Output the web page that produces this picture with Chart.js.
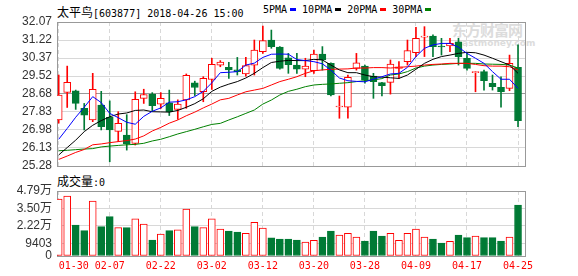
<!DOCTYPE html>
<html>
<head>
<meta charset="utf-8">
<script src="https://cdn.jsdelivr.net/npm/chart.js@4.4.1/dist/chart.umd.min.js"></script>
<style>
body { margin: 0; background: #fff; }
#wrap { position: relative; width: 578px; height: 276px; overflow: hidden; }
canvas { position: absolute; left: 0; }
#priceCanvas { top: 0; z-index: 2; }
#volCanvas { top: 166px; z-index: 2; }
.txt { position: absolute; white-space: pre; font: 10px "DejaVu Sans Mono", monospace; line-height: 14px; color: #000; }
.cjk { font: 12px "Noto Sans CJK SC", sans-serif; }
.key { display: inline-block; width: 6px; height: 3px; margin: 0 6px 1px 3px; vertical-align: middle; }
#mark { position: absolute; left: 452px; top: 21px; z-index: 1; color: #dcdcdc; }
#mark .cn { font: bold 15px "Noto Sans CJK SC", sans-serif; line-height: 17px; letter-spacing: -1px; }
#mark .en { font: bold 9px "DejaVu Sans", sans-serif; line-height: 10px; margin-left: 4px; }
</style>
</head>
<body>
<div id="wrap">
  <div class="txt" style="left:57px;top:3px"><span class="cjk">太平鸟</span>[603877] 2018-04-26 15:00</div>
  <div class="txt" style="left:263px;top:3px">5PMA<span class="key" style="background:#0000ff"></span>10PMA<span class="key" style="background:#000"></span>20PMA<span class="key" style="background:#ff0000"></span>30PMA<span class="key" style="background:#008000"></span></div>
  <div class="txt" style="left:57px;top:172px"><span class="cjk">成交量</span>:0</div>
  <div id="mark"><div class="cn">东方财富网</div><div class="en">eastmoney.com</div></div>
  <canvas id="priceCanvas" width="578" height="172"></canvas>
  <canvas id="volCanvas" width="578" height="110"></canvas>
</div>
<script>
// Trading days shown on the chart
const dates = ['01-30', '01-31', '02-01', '02-02', '02-05', '02-06', '02-07', '02-08', '02-09', '02-12',
    '02-13', '02-14', '02-22', '02-23', '02-26', '02-27', '02-28', '03-01', '03-02', '03-05',
    '03-06', '03-07', '03-08', '03-09', '03-12', '03-13', '03-14', '03-15', '03-16', '03-19',
    '03-20', '03-21', '03-22', '03-23', '03-26', '03-27', '03-28', '03-29', '03-30', '04-02',
    '04-03', '04-04', '04-09', '04-10', '04-11', '04-12', '04-13', '04-16', '04-17', '04-18',
    '04-19', '04-20', '04-23', '04-24', '04-25'];

// Daily prices
const openPrices = [27.45, 28.75, 28.82, 28.00, 27.45, 28.15, 27.58, 26.91, 26.74, 26.35,
    28.47, 28.67, 28.19, 28.26, 27.95, 28.39, 29.20, 28.78, 29.36, 30.03,
    29.93, 29.81, 29.62, 30.04, 30.67, 31.22, 30.89, 30.38, 30.04, 29.84,
    29.77, 30.56, 30.12, 28.06, 28.05, 29.88, 29.99, 29.52, 29.21, 29.22,
    29.88, 30.20, 30.62, 31.35, 31.41, 30.92, 30.94, 31.14, 30.36, 29.68,
    29.73, 29.18, 28.99, 28.94, 29.93];
const highPrices = [29.57, 29.99, 28.86, 28.23, 29.65, 28.80, 28.35, 27.84, 27.70, 28.78,
    28.90, 28.74, 28.74, 28.86, 28.40, 29.62, 29.28, 29.49, 30.36, 30.25,
    30.17, 30.40, 30.40, 31.22, 31.88, 31.69, 30.91, 30.59, 30.59, 30.36,
    30.75, 30.91, 30.15, 28.58, 29.57, 30.59, 30.04, 29.65, 29.22, 30.28,
    30.20, 31.22, 31.82, 31.85, 31.46, 31.30, 31.30, 31.30, 30.59, 29.73,
    29.80, 29.57, 29.49, 30.51, 30.99];
const lowPrices = [27.30, 28.04, 27.95, 26.98, 27.37, 26.98, 25.48, 26.43, 26.03, 26.27,
    28.23, 27.85, 27.99, 27.66, 27.48, 28.00, 28.60, 28.31, 28.89, 29.96,
    29.41, 29.57, 29.52, 29.57, 30.59, 30.83, 29.85, 29.65, 29.65, 29.49,
    29.65, 29.80, 28.58, 27.53, 27.53, 29.80, 29.18, 28.47, 28.58, 28.67,
    29.41, 30.04, 30.44, 30.44, 30.44, 30.51, 30.67, 30.04, 29.80, 28.78,
    28.86, 28.86, 28.05, 28.83, 27.13];
const closePrices = [28.62, 29.22, 28.23, 27.68, 28.89, 27.13, 26.98, 27.29, 26.33, 28.42,
    28.65, 28.13, 28.47, 27.84, 28.20, 29.56, 28.98, 29.41, 30.07, 30.18,
    29.81, 29.73, 30.01, 30.75, 31.19, 30.91, 29.88, 30.06, 29.85, 29.99,
    30.56, 30.28, 28.63, 28.10, 29.46, 30.15, 29.33, 29.26, 29.07, 30.09,
    29.96, 30.72, 31.30, 31.41, 30.91, 30.89, 31.06, 30.43, 29.88, 29.73,
    29.30, 29.02, 28.78, 30.12, 27.42];

// Moving averages
const ma5 = [26.54, 27.05, 27.58, 28.05, 28.55, 28.27, 27.76, 27.56, 27.34, 27.25,
    27.62, 27.86, 28.02, 28.29, 28.31, 28.40, 28.55, 28.80, 29.20, 29.68,
    29.70, 29.73, 30.04, 30.13, 30.40, 30.55, 30.56, 30.55, 30.30, 30.25,
    30.20, 30.10, 29.80, 29.43, 29.30, 29.27, 29.25, 29.37, 29.49, 29.62,
    29.65, 29.93, 30.44, 30.83, 30.99, 31.06, 31.06, 30.88, 30.59, 30.36,
    30.12, 29.73, 29.37, 29.37, 28.94];
const ma10 = [25.80, 26.15, 26.50, 26.90, 27.20, 27.42, 27.60, 27.73, 27.78, 27.90,
    27.92, 27.84, 27.83, 27.82, 27.90, 28.05, 28.22, 28.45, 28.80, 29.00,
    29.14, 29.26, 29.43, 29.65, 29.92, 30.16, 30.22, 30.26, 30.25, 30.25,
    30.31, 30.28, 30.04, 29.81, 29.68, 29.68, 29.57, 29.49, 29.47, 29.44,
    29.41, 29.57, 29.84, 30.12, 30.31, 30.44, 30.51, 30.59, 30.64, 30.62,
    30.51, 30.36, 30.20, 30.04, 29.65];
const ma20 = [25.59, 25.75, 25.92, 26.06, 26.28, 26.32, 26.38, 26.43, 26.48, 26.55,
    26.70, 26.93, 27.10, 27.30, 27.45, 27.65, 27.82, 28.02, 28.20, 28.40,
    28.47, 28.63, 28.78, 28.86, 28.94, 29.10, 29.26, 29.37, 29.49, 29.65,
    29.77, 29.81, 29.84, 29.85, 29.86, 29.90, 29.90, 29.92, 29.92, 29.90,
    29.93, 29.96, 29.99, 30.04, 30.07, 30.09, 30.12, 30.12, 30.12, 30.07,
    30.01, 29.99, 29.99, 29.96, 29.81];
const ma30 = [26.00, 26.02, 26.05, 26.08, 26.10, 26.18, 26.22, 26.25, 26.28, 26.30,
    26.35, 26.46, 26.54, 26.66, 26.79, 26.90, 27.01, 27.13, 27.24, 27.29,
    27.45, 27.60, 27.76, 27.92, 28.20, 28.39, 28.63, 28.80, 28.90, 29.02,
    29.10, 29.13, 29.15, 29.18, 29.21, 29.26, 29.30, 29.34, 29.40, 29.57,
    29.62, 29.73, 29.90, 29.99, 30.04, 30.07, 30.09, 30.12, 30.12, 30.12,
    30.09, 30.08, 30.07, 30.04, 29.90];

// Daily volume (shares)
const volumes = [42000, 44200, 22850, 18650, 40500, 21600, 29000, 20900, 20900, 27300,
    23600, 11800, 16200, 18650, 19200, 34600, 21600, 20900, 27300, 19900,
    18400, 17700, 16700, 24800, 20600, 13300, 12500, 12500, 11800, 10300,
    11500, 14000, 18400, 15500, 16700, 14000, 11000, 18400, 14700, 16700,
    11500, 16700, 19900, 14000, 12500, 9600, 10800, 15500, 13500, 14700,
    13500, 13500, 11000, 14000, 37600];

// Axis ticks
const priceTicks = [25.28, 26.13, 26.98, 27.83, 28.68, 29.52, 30.37, 31.22, 32.07];
const volTicks = [0, 9403, 22200, 35000, 47900];
const volTickLabels = ['0', '9403', '2.22万', '3.50万', '4.79万'];
const dateTicks = ['01-30', '02-07', '02-22', '03-02', '03-12', '03-20', '03-28', '04-09', '04-17', '04-25'];

const UP = '#ff0000';
const DOWN = '#007a35';
const FRAME = '#999999';
const GRID = '#d8d8d8';
const X_MIN = -0.2;
const X_MAX = 54.82;

const tickIdx = dateTicks.map(d => dates.indexOf(d));
const isUp = closePrices.map((c, i) => c >= openPrices[i]);
const candleColor = isUp.map(u => u ? UP : DOWN);

// Frame around each panel
const framePlugin = {
    id: 'frame',
    beforeDatasetsDraw(chart) {
        const { ctx, chartArea: a } = chart;
        ctx.save();
        ctx.strokeStyle = FRAME;
        ctx.lineWidth = 1;
        ctx.strokeRect(a.left + 0.5, a.top + 0.5, a.right - a.left, a.bottom - a.top);
        ctx.restore();
    }
};

// Keep the plot area fixed, whatever the labels need
function fixBox(s, w, h) {
    if (w !== null) s.width = w;
    if (h !== null) s.height = h;
    s.paddingLeft = 0;
    s.paddingRight = 0;
    s.paddingTop = 0;
    s.paddingBottom = 0;
}

function xScale(showLabels) {
    return {
        type: 'linear',
        offset: false,
        min: X_MIN,
        max: X_MAX,
        afterBuildTicks: s => { s.ticks = tickIdx.map(v => ({ value: v })); },
        afterFit: s => fixBox(s, null, showLabels ? 20 : 0),
        grid: { color: GRID, drawTicks: false, offset: false },
        border: { display: false, dash: [4, 3] },
        ticks: {
            display: showLabels,
            autoSkip: false,
            maxRotation: 0,
            padding: 4,
            color: UP,
            font: { family: '"DejaVu Sans Mono", monospace', size: 10 },
            // first label sits to the right of its grid line
            callback: v => v === tickIdx[0] ? '     ' + dates[v] : dates[v]
        }
    };
}

function yTickFont() {
    return { family: '"Liberation Sans", "Noto Sans CJK SC", sans-serif', size: 12 };
}

const maSets = [[ma5, '#0000ff'], [ma10, '#000000'], [ma20, '#ff0000'], [ma30, '#008000']];

// Price panel
new Chart(document.getElementById('priceCanvas'), {
    type: 'bar',
    data: {
        datasets: [
            ...maSets.map(([arr, col]) => ({
                type: 'line',
                data: arr.map((v, i) => ({ x: i, y: v })),
                borderColor: col,
                borderWidth: 1,
                pointRadius: 0,
                tension: 0,
                order: 0
            })),
            {
                data: openPrices.map((o, i) => ({ x: i, y: [o, closePrices[i]] })),
                backgroundColor: isUp.map(u => u ? '#ffffff' : DOWN),
                borderColor: candleColor,
                borderWidth: 1,
                borderSkipped: false,
                barThickness: 7,
                minBarLength: 1,
                grouped: false,
                order: 1
            },
            {
                data: lowPrices.map((l, i) => ({ x: i, y: [l, highPrices[i]] })),
                backgroundColor: candleColor,
                borderWidth: 0,
                barThickness: 1,
                grouped: false,
                order: 2
            }
        ]
    },
    options: {
        responsive: false,
        animation: false,
        layout: { padding: { top: 22, right: 53, bottom: 6, left: 0 } },
        plugins: { legend: { display: false }, tooltip: { enabled: false } },
        scales: {
            x: xScale(false),
            y: {
                min: priceTicks[0],
                max: priceTicks[priceTicks.length - 1],
                afterBuildTicks: s => { s.ticks = priceTicks.map(v => ({ value: v })); },
                afterFit: s => fixBox(s, 57, null),
                grid: { color: c => c.index === 4 ? FRAME : GRID, drawTicks: false },
                border: { display: false },
                ticks: {
                    autoSkip: false,
                    padding: 5,
                    color: '#333',
                    font: yTickFont(),
                    callback: v => v.toFixed(2)
                }
            }
        }
    },
    plugins: [framePlugin]
});

// Volume panel
new Chart(document.getElementById('volCanvas'), {
    type: 'bar',
    data: {
        datasets: [{
            data: volumes.map((v, i) => ({ x: i, y: v })),
            backgroundColor: isUp.map(u => u ? '#ffffff' : DOWN),
            borderColor: candleColor,
            borderWidth: 1,
            borderSkipped: false,
            barThickness: 7,
            grouped: false
        }]
    },
    options: {
        responsive: false,
        animation: false,
        layout: { padding: { top: 25, right: 53, bottom: 0, left: 0 } },
        plugins: { legend: { display: false }, tooltip: { enabled: false } },
        scales: {
            x: xScale(true),
            y: {
                min: 0,
                max: volTicks[volTicks.length - 1],
                afterBuildTicks: s => { s.ticks = volTicks.map(v => ({ value: v })); },
                afterFit: s => fixBox(s, 57, null),
                grid: { color: GRID, drawTicks: false },
                border: { display: false },
                ticks: {
                    autoSkip: false,
                    padding: 5,
                    color: '#333',
                    font: yTickFont(),
                    callback: (v, i) => volTickLabels[i]
                }
            }
        }
    },
    plugins: [framePlugin]
});
</script>
</body>
</html>
